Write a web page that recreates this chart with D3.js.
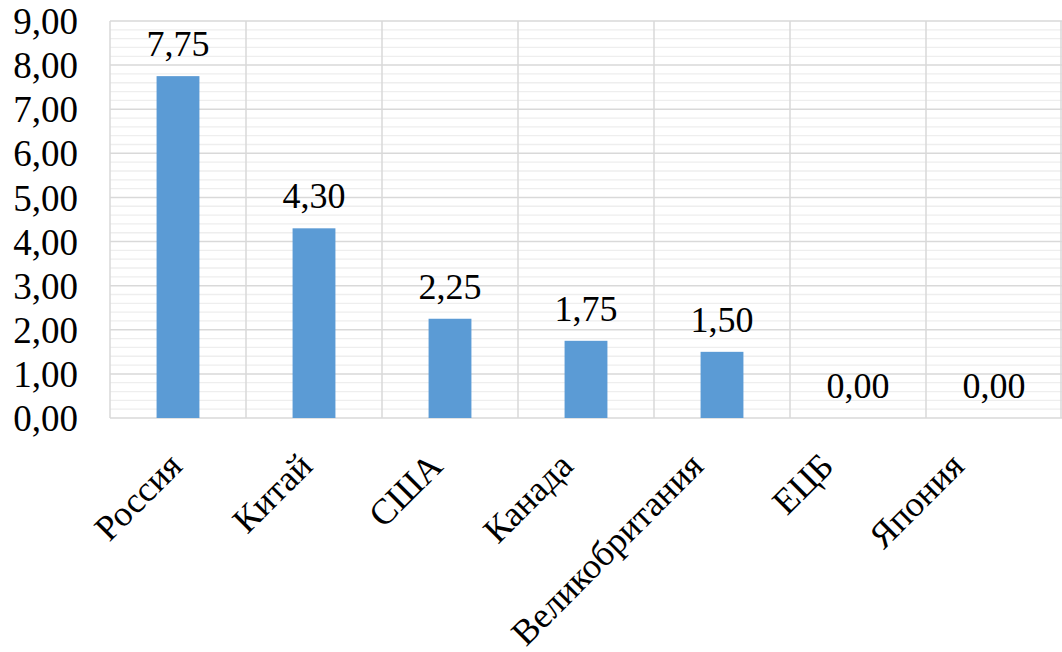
<!DOCTYPE html>
<html><head><meta charset="utf-8">
<script src="https://cdn.jsdelivr.net/npm/d3@7"></script>
<style>
html,body{margin:0;padding:0;background:#fff;}
text{font-family:"Liberation Serif","Times New Roman",serif;fill:#000;}
</style></head>
<body>
<svg id="chart" width="1062" height="652"></svg>
<script>
const categories = ["Россия","Китай","США","Канада","Великобритания","ЕЦБ","Япония"];
const values = [7.75, 4.30, 2.25, 1.75, 1.50, 0.00, 0.00];
const yTicks = [0,1,2,3,4,5,6,7,8,9];

const W = 1062, H = 652;
const m = {left:110, right:0, top:21, bottom:234};
const svg = d3.select("#chart");
const iw = W - m.left - m.right, ih = H - m.top - m.bottom;
const g = svg.append("g").attr("transform", `translate(${m.left},${m.top})`);

const x = d3.scaleBand().domain(categories).range([0, iw]).paddingInner(0.685).paddingOuter(0.3425);
const y = d3.scaleLinear().domain([0, 9]).range([ih, 0]);
const fmt = v => d3.format(".2f")(v).replace(".", ",");

// minor gridlines
const minor = d3.range(0, 9.0001, 0.2).filter(v => Math.abs(v - Math.round(v)) > 1e-6);
g.selectAll(".minor").data(minor).enter().append("line")
  .attr("x1", 0).attr("x2", iw).attr("y1", d => y(d)).attr("y2", d => y(d))
  .attr("stroke", "#eeeeee").attr("stroke-width", 1.3);
// major gridlines
g.selectAll(".major").data(yTicks).enter().append("line")
  .attr("x1", 0).attr("x2", iw).attr("y1", d => y(d)).attr("y2", d => y(d))
  .attr("stroke", "#d9d9d9").attr("stroke-width", 1.5);
// vertical gridlines at category boundaries
const step = x.step();
const bounds = d3.range(categories.length + 1).map(i => i * step);
g.selectAll(".vgrid").data(bounds).enter().append("line")
  .attr("x1", d => Math.min(d, iw - 1)).attr("x2", d => Math.min(d, iw - 1))
  .attr("y1", 0).attr("y2", ih)
  .attr("stroke", "#d9d9d9").attr("stroke-width", 1.5);

// bars
g.selectAll(".bar").data(values).enter().append("rect")
  .attr("x", (d, i) => x(categories[i])).attr("width", x.bandwidth())
  .attr("y", d => y(d)).attr("height", d => ih - y(d))
  .attr("fill", "#5b9bd5");

// value labels
g.selectAll(".val").data(values).enter().append("text")
  .attr("x", (d, i) => x(categories[i]) + x.bandwidth() / 2)
  .attr("y", d => y(d) - 20)
  .attr("text-anchor", "middle").attr("font-size", 36)
  .text(d => fmt(d));

// y axis labels
const yAxis = d3.axisLeft(y).tickValues(yTicks).tickFormat(fmt).tickSize(0).tickPadding(32);
const ya = g.append("g").call(yAxis);
ya.select(".domain").remove();
ya.selectAll("text").attr("font-size", 37).attr("dy", "0.34em")
  .style("font-family", '"Liberation Serif","Times New Roman",serif');

// x labels rotated
const xl = d3.scalePoint().domain(categories)
  .range([x.step() / 2 + 6, iw - x.step() / 2 - 28]);
g.selectAll(".xl").data(categories).enter().append("text")
  .attr("transform", d => `translate(${xl(d)},${ih + 50}) rotate(-45)`)
  .attr("text-anchor", "end").attr("font-size", 36)
  .text(d => d);
</script>
</body></html>
